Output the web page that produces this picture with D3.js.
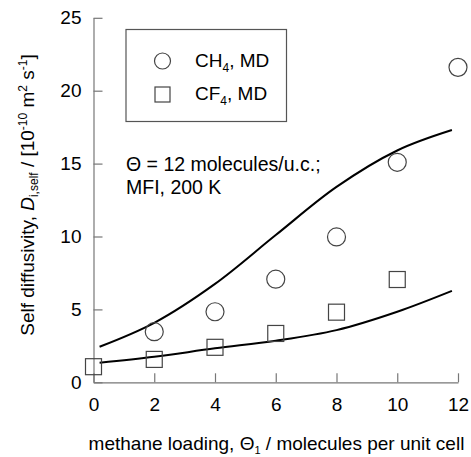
<!DOCTYPE html>
<html><head><meta charset="utf-8">
<script src="https://cdn.jsdelivr.net/npm/d3@7"></script>
<style>body{margin:0;background:#fff}svg{display:block}text{font-family:"Liberation Sans",Arial,sans-serif}</style>
</head><body><svg id="c" width="471" height="457"></svg>
<script>
const xTicks = [0, 2, 4, 6, 8, 10, 12];
const yTicks = [0, 5, 10, 15, 20, 25];
const ch4Loading = [2, 4, 6, 8, 10, 12];
const ch4MD = [3.47, 4.84, 7.07, 9.97, 15.09, 21.6];
const cf4Loading = [0, 2, 4, 6, 8, 10];
const cf4MD = [1.07, 1.57, 2.4, 3.35, 4.81, 7.05];
const curveX = [0.2, 2, 4, 6, 8, 10, 11.8];
const ch4Model = [2.44, 4.08, 6.75, 10.1, 13.4, 15.9, 17.3];
const cf4Model = [1.34, 1.75, 2.33, 2.85, 3.58, 4.84, 6.27];

const svg = d3.select("#c");
const x = d3.scaleLinear().domain([0, 12]).range([93.5, 458]);
const y = d3.scaleLinear().domain([0, 25]).range([382.3, 17.8]);
const axisCol = "#777";
const fs = 19;

// axes
const xa = svg.append("g").attr("transform", `translate(0,${y(0)})`)
  .call(d3.axisBottom(x).tickValues(xTicks).tickSizeInner(-9).tickSizeOuter(0).tickPadding(15));
const ya = svg.append("g").attr("transform", `translate(${x(0)},0)`)
  .call(d3.axisLeft(y).tickValues(yTicks).tickSizeInner(-9).tickSizeOuter(0).tickPadding(12));
[xa, ya].forEach(a => {
  a.selectAll("path").attr("stroke", axisCol).attr("stroke-width", 1.2);
  a.selectAll("line").attr("stroke", axisCol).attr("stroke-width", 1.2);
  a.selectAll("text").attr("fill", "#000").style("font-size", fs + "px").style("font-family", '"Liberation Sans",Arial,sans-serif');
});

// curves
const line = d3.line().x(d => x(d[0])).y(d => y(d[1])).curve(d3.curveCatmullRom.alpha(0.5));
[ch4Model, cf4Model].forEach(m => {
  svg.append("path").attr("d", line(curveX.map((v, i) => [v, m[i]])))
    .attr("fill", "none").attr("stroke", "#000").attr("stroke-width", 2);
});

const mk = "#444";
// CH4 circles
svg.append("g").selectAll("circle").data(ch4Loading).join("circle")
  .attr("cx", d => x(d)).attr("cy", (d, i) => y(ch4MD[i])).attr("r", 9)
  .attr("fill", "none").attr("stroke", mk).attr("stroke-width", 1.2);
// CF4 squares
const s = 16;
svg.append("g").selectAll("rect").data(cf4Loading).join("rect")
  .attr("x", d => x(d) - s / 2).attr("y", (d, i) => y(cf4MD[i]) - s / 2).attr("width", s).attr("height", s)
  .attr("fill", "none").attr("stroke", mk).attr("stroke-width", 1.2);

// legend
svg.append("rect").attr("x", 126).attr("y", 29.5).attr("width", 160.5).attr("height", 92)
  .attr("fill", "none").attr("stroke", "#555").attr("stroke-width", 1.2);
svg.append("circle").attr("cx", 162.5).attr("cy", 61).attr("r", 8).attr("fill", "none").attr("stroke", mk).attr("stroke-width", 1.2);
svg.append("rect").attr("x", 155).attr("y", 87).attr("width", 15).attr("height", 15).attr("fill", "none").attr("stroke", mk).attr("stroke-width", 1.2);
function chem(xx, yy, main, sub, rest) {
  const tx = svg.append("text").attr("x", xx).attr("y", yy).style("font-size", fs + "px");
  tx.append("tspan").text(main);
  tx.append("tspan").attr("dy", 5).style("font-size", "12px").text(sub);
  tx.append("tspan").attr("dy", -5).text(rest);
}
chem(195, 67, "CH", "4", ", MD");
chem(195, 99.5, "CF", "4", ", MD");

// annotation
svg.append("text").attr("x", 126).attr("y", 170.5).style("font-size", "19.5px").text("\u0398 = 12 molecules/u.c.;");
svg.append("text").attr("x", 126).attr("y", 194).style("font-size", "19.5px").text("MFI, 200 K");

// x title
const xt = svg.append("text").attr("x", 276.5).attr("y", 450).attr("text-anchor", "middle").style("font-size", fs + "px");
xt.append("tspan").text("methane loading, \u0398");
xt.append("tspan").attr("dy", 4).style("font-size", "11px").text("1");
xt.append("tspan").attr("dy", -4).text(" / molecules per unit cell");

// y title
const yt = svg.append("text").attr("transform", "translate(34,195) rotate(-90)").attr("text-anchor", "middle").style("font-size", fs + "px");
yt.append("tspan").text("Self diffusivity, ");
yt.append("tspan").style("font-style", "italic").text("D");
yt.append("tspan").attr("dy", 4).style("font-size", "12px").text("i,self");
yt.append("tspan").attr("dy", -4).text(" / [10");
yt.append("tspan").attr("dy", -7).style("font-size", "12px").text("-10");
yt.append("tspan").attr("dy", 7).text(" m");
yt.append("tspan").attr("dy", -7).style("font-size", "12px").text("2");
yt.append("tspan").attr("dy", 7).text(" s");
yt.append("tspan").attr("dy", -7).style("font-size", "12px").text("-1");
yt.append("tspan").attr("dy", 7).text("]");
</script></body></html>
